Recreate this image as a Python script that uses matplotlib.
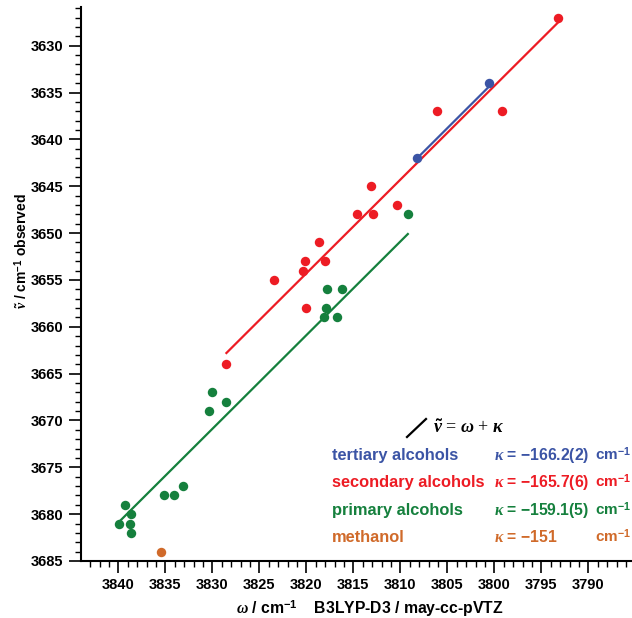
import matplotlib
matplotlib.use('Agg')
import matplotlib.pyplot as plt
from matplotlib.ticker import MultipleLocator

plt.rcParams['font.family'] = ['Liberation Sans', 'DejaVu Sans']
plt.rcParams['font.weight'] = 'bold'
plt.rcParams['mathtext.fontset'] = 'custom'
plt.rcParams['mathtext.rm'] = 'Liberation Sans:bold'
plt.rcParams['mathtext.it'] = 'Liberation Serif:italic'
plt.rcParams['mathtext.bf'] = 'Liberation Sans:bold'

terc_x = [3808.2, 3800.6]
terc_y = [3642, 3634]
sec_x = [3793.2, 3806.1, 3799.2, 3813.1, 3814.6, 3812.9, 3810.4, 3818.6,
         3818.0, 3820.1, 3820.4, 3823.4, 3820.0, 3828.5]
sec_y = [3627, 3637, 3637, 3645, 3648, 3648, 3647, 3651,
         3653, 3653, 3654, 3655, 3658, 3664]
prim_x = [3809.2, 3817.8, 3816.2, 3817.9, 3818.1, 3816.7, 3830.0, 3830.4,
          3828.5, 3833.1, 3835.1, 3834.1, 3839.3, 3838.6, 3839.9, 3838.8, 3838.6]
prim_y = [3648, 3656, 3656, 3658, 3659, 3659, 3667, 3669,
          3668, 3677, 3678, 3678, 3679, 3680, 3681, 3681, 3682]
met_x = [3835.5]
met_y = [3684]

kappas = [-166.2, -165.7, -159.1]
nomes = ['tertiary alcohols', 'secondary alcohols', 'primary alcohols', 'methanol']
valores = ['\u2212166.2(2)', '\u2212165.7(6)', '\u2212159.1(5)', '\u2212151']

azul = '#3b54a5'
vermelho = '#ed1c24'
verde = '#15803d'
laranja = '#d06a2a'
cores = [azul, vermelho, verde, laranja]

fig = plt.figure(figsize=(6.32, 6.18), dpi=100)
W, H = 632, 618
esq, dir_, topo, base = 81, 631, 7, 561
ax = fig.add_axes([esq / W, 1 - base / H, (dir_ - esq) / W, (base - topo) / H])

grupos = [(terc_x, terc_y, kappas[0], azul),
          (sec_x, sec_y, kappas[1], vermelho),
          (prim_x, prim_y, kappas[2], verde)]
for gx, gy, k, c in grupos:
    x0, x1 = max(gx), min(gx)
    ax.plot([x0, x1], [x0 + k, x1 + k], color=c, lw=1.6, zorder=2)
for gx, gy, k, c in grupos:
    ax.plot(gx, gy, 'o', color=c, ms=6.8, mew=0, zorder=3)
ax.plot(met_x, met_y, 'o', color=laranja, ms=6.8, mew=0, zorder=3)

ax.set_xlim(3843.97, 3785.46)
ax.set_ylim(3685, 3625.87)

ax.xaxis.set_major_locator(MultipleLocator(5))
ax.xaxis.set_minor_locator(MultipleLocator(1))
ax.yaxis.set_major_locator(MultipleLocator(5))
ax.yaxis.set_minor_locator(MultipleLocator(1))
ax.tick_params(which='major', direction='out', length=8.5, width=1.2, labelsize=10.5, pad=4)
ax.tick_params(which='minor', direction='out', length=4.5, width=1.0)
for lbl in ax.get_xticklabels() + ax.get_yticklabels():
    lbl.set_fontweight('bold')
ax.spines['top'].set_visible(False)
ax.spines['right'].set_visible(False)
ax.spines['left'].set_linewidth(1.5)
ax.spines['bottom'].set_linewidth(1.5)


def fx(px):
    return (px - esq) / (dir_ - esq)


def fy(py):
    return (base - py) / (base - topo)


ax.set_xlabel(r'$\omega$ / cm$^{-1}$    B3LYP-D3 / may-cc-pVTZ', fontsize=11.3,
              fontweight='bold')
ax.xaxis.set_label_coords(fx(370), fy(598))
ax.set_ylabel(r'$\tilde{\nu}$ / cm$^{-1}$ observed', fontsize=10, fontweight='bold')
ax.yaxis.set_label_coords(fx(30), fy(251))

# legenda manual
ax.plot([fx(407), fx(426)], [fy(437), fy(419)], color='black', lw=1.6,
        transform=ax.transAxes, clip_on=False)
ax.text(fx(433), fy(433), r'$\tilde{\nu}$ = $\omega$ + $\kappa$', transform=ax.transAxes,
        fontsize=13, family='Liberation Serif', fontweight='normal', va='baseline')

linhas_y = [460, 487.5, 515, 542]
for nome, val, c, py in zip(nomes, valores, cores, linhas_y):
    ax.text(fx(332), fy(py), nome, transform=ax.transAxes, color=c,
            fontsize=11.8, fontweight='bold', va='baseline')
    ax.text(fx(494), fy(py), r'$\kappa$' + ' = ' + val, transform=ax.transAxes, color=c,
            fontsize=11.3, fontweight='bold', va='baseline')
    ax.text(fx(595), fy(py), r'cm$^{-1}$', transform=ax.transAxes, color=c,
            fontsize=11.0, fontweight='bold', va='baseline', clip_on=False)

fig.savefig('out.png', dpi=100)
